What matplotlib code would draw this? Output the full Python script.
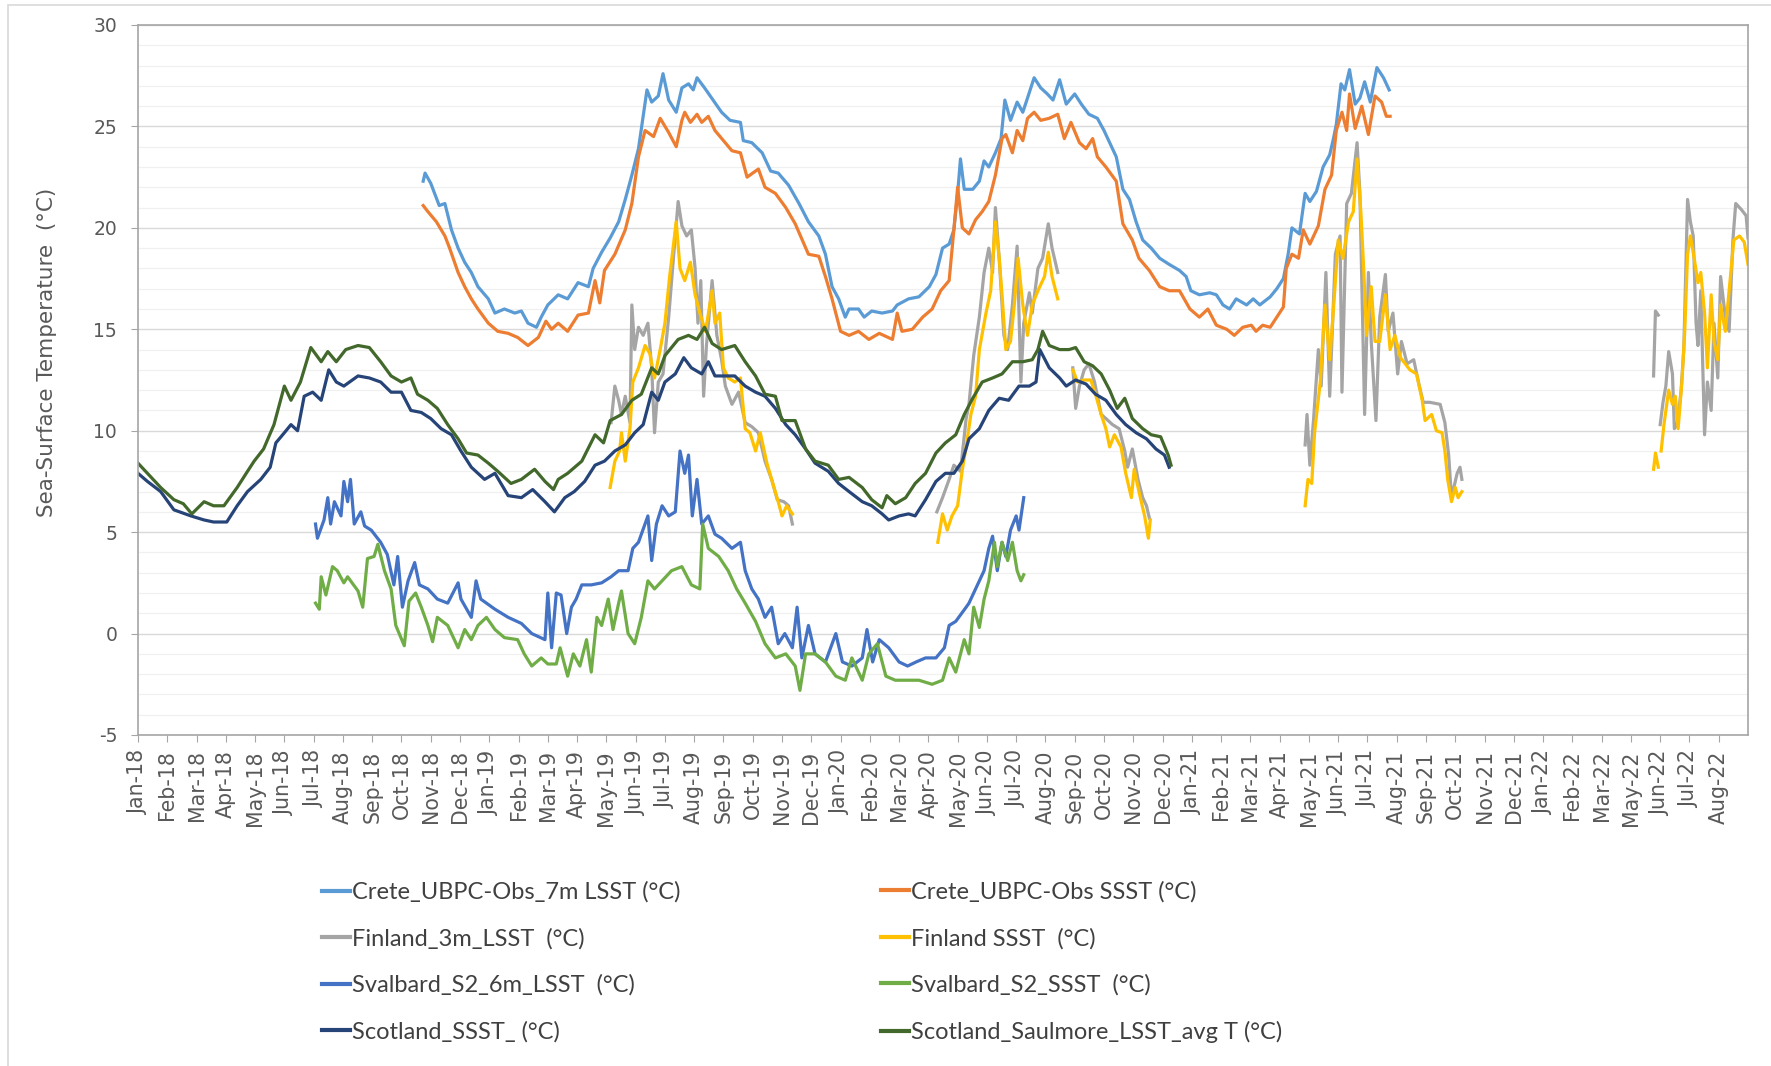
import numpy as np
import pandas as pd
import matplotlib
matplotlib.use('Agg')
import matplotlib.pyplot as plt
from matplotlib.ticker import MultipleLocator
from matplotlib.patches import Rectangle

plt.rcParams['axes.unicode_minus'] = False

nan = np.nan
base_date = pd.Timestamp('2018-01-01')

# days since 1 Jan 2018 and temperatures
crete_lsst_day = [302, 304, 310, 319, 325, 332, 339, 346, 353, 360, 371, 378, 388, 399, 406, 413, 422, 427, 434,
                  445, 455, 466, 477, 482, 491, 500, 509, 516, 523, 530, 535, 539, 544, 551, 556, 562, 570, 576,
                  583, 588, 592, 600, 609, 618, 627, 638, 641, 650, 661, 670, 678, 689, 700, 710, 721, 728, 735,
                  742, 749, 753, 763, 769, 777, 788, 799, 804, 816, 827, 838, 845, 852, 859, 864, 868, 871, 875,
                  884, 891, 896, 901, 908, 914, 918, 924, 931, 937, 942, 949, 956, 963, 969, 976, 983, 992, 999,
                  1007, 1016, 1023, 1029, 1036, 1043, 1050, 1057, 1064, 1073, 1082, 1092, 1103, 1110, 1115, 1124,
                  1135, 1142, 1149, 1156, 1163, 1174, 1181, 1188, 1199, 1206, 1213, 1218, 1222, 1230, 1236, 1241,
                  1248, 1255, 1262, 1266, 1269, 1274, 1278, 1283, 1289, 1294, 1299, 1305, 1312, 1319, 1325]
crete_lsst = [22.3, 22.7, 22.2, 21.1, 21.2, 19.9, 19.0, 18.3, 17.8, 17.1, 16.5, 15.8, 16.0, 15.8, 15.9, 15.3, 15.1,
              15.6, 16.2, 16.7, 16.5, 17.3, 17.1, 18.0, 18.8, 19.5, 20.3, 21.4, 22.6, 23.9, 25.5, 26.8, 26.2, 26.5,
              27.6, 26.3, 25.7, 26.9, 27.1, 26.8, 27.4, 26.9, 26.3, 25.7, 25.3, 25.2, 24.3, 24.2, 23.7, 22.8, 22.7,
              22.1, 21.2, 20.3, 19.6, 18.7, 17.1, 16.5, 15.6, 16.0, 16.0, 15.6, 15.9, 15.8, 15.9, 16.2, 16.5, 16.6,
              17.1, 17.7, 19.0, 19.2, 19.9, 21.7, 23.4, 21.9, 21.9, 22.3, 23.3, 23.0, 23.7, 24.4, 26.3, 25.3, 26.2,
              25.7, 26.4, 27.4, 26.9, 26.6, 26.3, 27.3, 26.1, 26.6, 26.1, 25.6, 25.4, 24.8, 24.2, 23.5, 21.9, 21.4,
              20.3, 19.4, 19.0, 18.5, 18.2, 17.9, 17.6, 16.9, 16.7, 16.8, 16.7, 16.2, 16.0, 16.5, 16.2, 16.5, 16.2,
              16.6, 17.0, 17.5, 18.7, 20.0, 19.7, 21.7, 21.3, 21.8, 23.0, 23.6, 24.4, 25.1, 27.1, 26.8, 27.8, 26.1,
              26.4, 27.2, 26.2, 27.9, 27.4, 26.8]

crete_ssst_day = [302, 307, 316, 325, 330, 339, 346, 353, 360, 371, 381, 392, 402, 413, 424, 432, 438, 445, 455,
                  466, 477, 484, 489, 494, 505, 516, 523, 530, 537, 546, 553, 562, 570, 576, 579, 585, 592, 597,
                  604, 611, 620, 629, 638, 645, 657, 664, 675, 686, 696, 710, 721, 728, 735, 744, 753, 763, 774,
                  785, 799, 804, 809, 820, 831, 841, 850, 859, 864, 868, 873, 880, 887, 894, 901, 908, 915, 919,
                  926, 931, 937, 942, 949, 956, 965, 974, 981, 988, 997, 1004, 1011, 1016, 1025, 1036, 1043, 1053,
                  1060, 1071, 1082, 1092, 1103, 1114, 1124, 1133, 1142, 1153, 1161, 1170, 1179, 1184, 1191, 1199,
                  1206, 1213, 1216, 1222, 1229, 1234, 1241, 1250, 1257, 1264, 1269, 1275, 1280, 1283, 1289, 1296,
                  1303, 1310, 1317, 1322, 1326]
crete_ssst = [21.1, 20.8, 20.3, 19.6, 19.0, 17.8, 17.1, 16.5, 16.0, 15.3, 14.9, 14.8, 14.6, 14.2, 14.6, 15.4, 15.0,
              15.3, 14.9, 15.7, 15.8, 17.4, 16.3, 17.9, 18.7, 19.9, 21.2, 23.5, 24.8, 24.5, 25.4, 24.7, 24.0, 25.3,
              25.7, 25.2, 25.6, 25.2, 25.5, 24.8, 24.3, 23.8, 23.7, 22.5, 22.9, 22.0, 21.7, 21.0, 20.2, 18.7, 18.6,
              17.6, 16.5, 14.9, 14.7, 14.9, 14.5, 14.8, 14.5, 15.8, 14.9, 15.0, 15.6, 16.0, 16.9, 17.4, 19.9, 22.0,
              20.0, 19.7, 20.4, 20.8, 21.3, 22.6, 24.4, 24.6, 23.7, 24.8, 24.3, 25.4, 25.7, 25.3, 25.4, 25.6, 24.4,
              25.2, 24.2, 23.9, 24.4, 23.5, 23.0, 22.3, 20.2, 19.4, 18.5, 17.9, 17.1, 16.9, 16.9, 16.0, 15.6, 16.0,
              15.2, 15.0, 14.7, 15.1, 15.2, 14.9, 15.2, 15.1, 15.6, 16.1, 18.0, 18.7, 18.5, 19.9, 19.2, 20.1, 21.9,
              22.6, 24.8, 25.7, 24.8, 26.6, 24.9, 26.0, 24.6, 26.5, 26.2, 25.5, 25.5]

finland_lsst_day = [501, 505, 509, 512, 516, 521, 523, 526, 530, 535, 540, 544, 547, 551, 556, 562, 567, 572, 576,
                    581, 586, 590, 593, 596, 599, 602, 608, 613, 618, 622, 629, 636, 643, 650, 657, 664, 671, 677,
                    684, 689, 693, 770,
                    846, 852, 859, 864, 871, 877, 880, 885, 891, 896, 901, 905, 908, 912, 917, 921, 926, 931, 935,
                    938, 944, 947, 953, 958, 964, 968, 974, 982,
                    990, 993, 997, 1002, 1007, 1013, 1020, 1025, 1032, 1039, 1045, 1048, 1053, 1059, 1064, 1068,
                    1071, 1150,
                    1236, 1238, 1241, 1245, 1250, 1253, 1258, 1262, 1268, 1273, 1275, 1280, 1285, 1291, 1294, 1299,
                    1303, 1306, 1311, 1315, 1321, 1324, 1329, 1334, 1338, 1344, 1351, 1356, 1361, 1368, 1379, 1384,
                    1388, 1391, 1397, 1400, 1402, 1500,
                    1605, 1607, 1610, 1611, 1612, 1615, 1618, 1621, 1625, 1627, 1630, 1634, 1637, 1641, 1644, 1647,
                    1650, 1652, 1655, 1659, 1662, 1666, 1669, 1673, 1676, 1681, 1685, 1689, 1692, 1698, 1703, 1705]
finland_lsst = [10.4, 12.2, 11.5, 10.8, 11.7, 10.4, 16.2, 14.0, 15.1, 14.7, 15.3, 13.1, 9.9, 12.4, 12.8, 15.6, 18.5,
                21.3, 20.1, 19.6, 19.9, 18.0, 15.3, 17.4, 11.7, 14.2, 17.4, 14.7, 13.5, 12.2, 11.3, 11.9, 10.4, 10.2,
                9.9, 8.5, 7.6, 6.6, 6.5, 6.3, 5.4, nan,
                6.0, 6.7, 7.6, 8.3, 8.0, 10.6, 11.3, 13.7, 15.6, 17.8, 19.0, 17.8, 21.0, 18.5, 14.7, 14.0, 16.2,
                19.1, 12.4, 15.3, 16.8, 15.8, 18.0, 18.5, 20.2, 19.0, 17.8, nan,
                13.1, 11.1, 12.2, 13.0, 13.3, 12.4, 10.8, 10.6, 10.3, 10.1, 9.0, 8.2, 9.1, 7.6, 6.7, 6.3, 5.7, nan,
                9.3, 10.8, 8.3, 10.6, 14.0, 12.2, 17.8, 11.7, 18.7, 19.6, 11.9, 21.2, 21.7, 24.2, 21.7, 10.8, 17.8,
                14.4, 10.5, 15.6, 17.7, 14.9, 15.8, 12.8, 14.4, 13.3, 13.5, 12.4, 11.4, 11.4, 11.3, 10.4, 8.8, 6.7,
                7.9, 8.2, 7.6, nan,
                12.7, 15.9, 15.7, nan, 10.3, 11.4, 12.2, 13.9, 12.8, 10.1, 10.3, 11.9, 14.0, 21.4, 20.3, 19.6, 15.3,
                14.2, 16.9, 9.8, 12.4, 11.0, 15.3, 12.6, 17.6, 15.6, 14.9, 19.4, 21.2, 20.9, 20.6, 19.5]

finland_ssst_day = [500, 505, 510, 512, 516, 521, 524, 530, 537, 542, 547, 553, 558, 563, 570, 574, 579, 585, 590,
                    595, 601, 608, 611, 616, 620, 625, 632, 638, 643, 648, 654, 659, 666, 671, 678, 682, 687, 693,
                    770,
                    847, 852, 857, 862, 868, 873, 877, 882, 887, 891, 898, 903, 908, 912, 915, 919, 924, 928, 932,
                    937, 942, 947, 953, 960, 964, 968, 974, 982,
                    990, 995, 1002, 1009, 1014, 1020, 1025, 1029, 1034, 1041, 1046, 1052, 1055, 1060, 1066, 1070,
                    1072, 1150,
                    1236, 1239, 1243, 1246, 1252, 1257, 1262, 1266, 1271, 1276, 1282, 1287, 1291, 1295, 1298, 1301,
                    1306, 1310, 1315, 1321, 1326, 1331, 1337, 1342, 1347, 1354, 1360, 1363, 1370, 1375, 1381, 1384,
                    1387, 1391, 1395, 1398, 1402, 1500,
                    1605, 1607, 1610, 1611, 1613, 1616, 1621, 1625, 1628, 1631, 1635, 1638, 1641, 1644, 1648, 1652,
                    1655, 1659, 1662, 1666, 1669, 1673, 1676, 1681, 1685, 1690, 1696, 1701, 1705]
finland_ssst = [7.2, 8.5, 9.0, 9.9, 8.5, 10.1, 12.4, 13.1, 14.2, 13.8, 12.6, 14.0, 15.3, 17.6, 20.3, 18.0, 17.4,
                18.3, 16.7, 15.8, 14.9, 16.9, 15.3, 15.8, 13.1, 12.6, 12.4, 12.6, 10.1, 9.9, 9.0, 9.9, 8.4, 7.6, 6.5,
                5.8, 6.3, 5.9, nan,
                4.5, 5.9, 5.1, 5.8, 6.3, 8.1, 9.2, 10.8, 11.7, 14.0, 15.8, 16.9, 20.3, 18.5, 16.7, 14.0, 14.4, 16.2,
                18.5, 16.2, 14.7, 16.2, 16.9, 17.6, 18.8, 17.6, 16.5, nan,
                13.0, 12.4, 12.5, 12.5, 11.8, 10.8, 10.1, 9.2, 9.8, 9.2, 7.9, 6.7, 8.1, 7.0, 5.8, 4.7, 5.6, nan,
                6.3, 7.6, 7.4, 9.9, 12.4, 16.2, 13.5, 16.0, 19.4, 18.5, 20.3, 20.8, 23.4, 20.8, 18.0, 14.7, 17.1,
                14.4, 14.4, 16.7, 14.0, 14.7, 13.6, 13.3, 13.0, 12.8, 11.5, 10.5, 10.8, 10.0, 9.9, 9.0, 7.6, 6.5,
                7.2, 6.7, 7.0, nan,
                8.1, 8.9, 8.2, nan, 9.0, 10.3, 12.0, 11.3, 11.7, 10.1, 12.4, 14.9, 18.7, 19.6, 18.5, 17.3, 17.8,
                15.8, 13.1, 16.7, 14.4, 13.5, 16.2, 14.9, 16.9, 19.4, 19.6, 19.3, 18.2]

svalbard_lsst_day = [188, 190, 197, 201, 204, 208, 215, 218, 222, 225, 229, 236, 240, 247, 257, 264, 271, 275, 280,
                     286, 293, 298, 307, 317, 328, 339, 342, 353, 358, 363, 378, 392, 406, 417, 431, 434, 438, 443,
                     448, 454, 459, 464, 470, 480, 491, 501, 509, 519, 524, 530, 540, 544, 549, 555, 562, 569, 574,
                     579, 583, 587, 592, 597, 604, 611, 618, 629, 638, 643, 650, 657, 664, 671, 678, 685, 693, 698,
                     703, 710, 717, 728, 739, 746, 756, 767, 772, 778, 785, 795, 806, 815, 824, 834, 845, 854, 859,
                     866, 877, 880, 885, 891, 896, 901, 905, 910, 915, 919, 924, 930, 933, 938]
svalbard_lsst = [5.4, 4.7, 5.6, 6.7, 5.4, 6.5, 5.8, 7.5, 6.5, 7.6, 5.4, 6.0, 5.3, 5.1, 4.5, 3.9, 2.4, 3.8, 1.3, 2.6,
                 3.5, 2.4, 2.2, 1.7, 1.5, 2.5, 1.7, 0.8, 2.6, 1.7, 1.2, 0.8, 0.5, 0.0, -0.3, 2.0, -0.7, 2.0, 1.9,
                 0.0, 1.3, 1.7, 2.4, 2.4, 2.5, 2.8, 3.1, 3.1, 4.2, 4.5, 5.8, 3.6, 5.4, 6.3, 5.8, 6.0, 9.0, 7.9, 8.8,
                 5.8, 7.6, 5.4, 5.8, 4.9, 4.7, 4.2, 4.5, 3.1, 2.2, 1.7, 0.8, 1.3, -0.5, 0.0, -0.7, 1.3, -1.2, 0.4,
                 -1.0, -1.4, 0.0, -1.4, -1.6, -1.2, 0.2, -1.4, -0.3, -0.7, -1.4, -1.6, -1.4, -1.2, -1.2, -0.7, 0.4,
                 0.6, 1.3, 1.5, 2.0, 2.6, 3.1, 4.2, 4.8, 3.1, 4.5, 3.8, 5.1, 5.8, 5.1, 6.7]

svalbard_ssst_day = [188, 192, 194, 199, 206, 211, 218, 222, 233, 238, 243, 250, 254, 261, 268, 273, 282, 287, 294,
                     300, 307, 312, 317, 328, 339, 346, 353, 360, 369, 378, 388, 402, 409, 417, 427, 434, 443, 447,
                     455, 461, 468, 475, 480, 486, 491, 498, 503, 509, 512, 519, 526, 533, 540, 547, 555, 565, 576,
                     586, 595, 598, 604, 615, 625, 634, 643, 654, 664, 675, 686, 696, 701, 707, 717, 728, 739, 749,
                     756, 767, 774, 783, 792, 802, 816, 827, 841, 852, 859, 866, 875, 880, 885, 891, 896, 901, 907,
                     910, 915, 921, 926, 931, 935, 938]
svalbard_ssst = [1.5, 1.2, 2.8, 1.9, 3.3, 3.1, 2.5, 2.8, 2.1, 1.3, 3.7, 3.8, 4.4, 3.1, 2.2, 0.4, -0.6, 1.6, 2.0, 1.3,
                 0.4, -0.4, 0.8, 0.4, -0.7, 0.2, -0.3, 0.4, 0.8, 0.2, -0.2, -0.3, -1.0, -1.6, -1.2, -1.5, -1.5, -0.7,
                 -2.1, -1.0, -1.6, -0.3, -1.9, 0.8, 0.4, 1.7, 0.2, 1.5, 2.1, 0.0, -0.5, 0.8, 2.6, 2.2, 2.6, 3.1, 3.3,
                 2.4, 2.2, 5.4, 4.2, 3.8, 3.1, 2.2, 1.5, 0.6, -0.5, -1.2, -1.0, -1.6, -2.8, -1.0, -1.0, -1.4, -2.1,
                 -2.3, -1.2, -2.3, -1.0, -0.5, -2.1, -2.3, -2.3, -2.3, -2.5, -2.3, -1.2, -1.9, -0.3, -1.0, 1.3, 0.3,
                 1.7, 2.6, 4.5, 3.3, 4.5, 3.6, 4.5, 3.1, 2.6, 2.9]

scotland_ssst_day = [0, 10, 24, 38, 56, 70, 80, 94, 105, 116, 130, 140, 146, 155, 162, 169, 176, 185, 194, 202, 210,
                     218, 233, 245, 257, 268, 279, 289, 300, 310, 321, 332, 342, 353, 367, 378, 392, 406, 418, 431,
                     441, 452, 462, 473, 484, 494, 505, 516, 526, 535, 544, 551, 558, 569, 578, 586, 597, 604, 611,
                     622, 632, 643, 654, 664, 675, 686, 696, 707, 717, 731, 742, 753, 767, 777, 788, 795, 806, 816,
                     823, 834, 845, 855, 864, 873, 880, 891, 901, 912, 922, 933, 944, 951, 955, 965, 976, 983, 993,
                     1004, 1014, 1025, 1036, 1046, 1057, 1068, 1078, 1087, 1092]
scotland_ssst = [7.9, 7.5, 7.0, 6.1, 5.8, 5.6, 5.5, 5.5, 6.3, 7.0, 7.6, 8.2, 9.4, 9.9, 10.3, 10.0, 11.7, 11.9, 11.5,
                 13.0, 12.4, 12.2, 12.7, 12.6, 12.4, 11.9, 11.9, 11.0, 10.9, 10.6, 10.1, 9.8, 9.0, 8.2, 7.6, 7.9, 6.8,
                 6.7, 7.1, 6.5, 6.0, 6.7, 7.0, 7.5, 8.3, 8.5, 9.0, 9.3, 9.9, 10.3, 11.9, 11.5, 12.4, 12.8, 13.6, 13.1,
                 12.8, 13.4, 12.7, 12.7, 12.7, 12.2, 11.9, 11.7, 11.1, 10.3, 9.8, 9.1, 8.4, 8.0, 7.4, 7.0, 6.5, 6.3,
                 5.9, 5.6, 5.8, 5.9, 5.8, 6.6, 7.5, 7.9, 7.9, 8.5, 9.6, 10.1, 11.0, 11.6, 11.5, 12.2, 12.2, 12.4,
                 14.0, 13.1, 12.6, 12.2, 12.5, 12.3, 11.8, 11.5, 10.8, 10.3, 9.9, 9.6, 9.1, 8.8, 8.2]

saulmore_day = [0, 10, 24, 38, 48, 57, 70, 80, 91, 105, 116, 123, 133, 144, 155, 162, 172, 183, 194, 201, 210, 220,
                233, 245, 257, 268, 279, 289, 296, 307, 317, 328, 339, 348, 360, 371, 381, 395, 406, 420, 431, 440,
                445, 455, 470, 484, 493, 500, 512, 523, 533, 544, 551, 558, 572, 583, 592, 600, 608, 618, 632, 643,
                654, 664, 675, 682, 696, 707, 717, 731, 742, 753, 767, 777, 788, 793, 802, 813, 823, 834, 845, 855,
                866, 875, 884, 894, 905, 915, 926, 937, 947, 953, 958, 965, 976, 986, 993, 1002, 1011, 1020, 1029,
                1037, 1045, 1053, 1064, 1073, 1083, 1091, 1094]
saulmore = [8.4, 7.9, 7.2, 6.6, 6.4, 5.9, 6.5, 6.3, 6.3, 7.2, 8.0, 8.5, 9.1, 10.3, 12.2, 11.5, 12.4, 14.1, 13.4, 13.9,
            13.4, 14.0, 14.2, 14.1, 13.4, 12.7, 12.4, 12.6, 11.8, 11.5, 11.1, 10.3, 9.6, 8.9, 8.8, 8.4, 8.0, 7.4, 7.6,
            8.1, 7.5, 7.1, 7.6, 7.9, 8.5, 9.8, 9.4, 10.5, 10.8, 11.5, 11.8, 13.1, 12.8, 13.7, 14.5, 14.7, 14.5, 15.1,
            14.3, 14.0, 14.2, 13.4, 12.7, 11.8, 11.7, 10.5, 10.5, 9.1, 8.5, 8.3, 7.6, 7.7, 7.2, 6.6, 6.2, 6.8, 6.4,
            6.7, 7.4, 7.9, 8.9, 9.4, 9.8, 10.8, 11.6, 12.4, 12.6, 12.8, 13.4, 13.4, 13.5, 14.0, 14.9, 14.2, 14.0,
            14.0, 14.1, 13.4, 13.2, 12.8, 12.0, 11.1, 11.6, 10.6, 10.1, 9.8, 9.7, 8.8, 8.3]

series = [
    ('Crete_UBPC-Obs_7m LSST (°C)', crete_lsst_day, crete_lsst, '#5B9BD5'),
    ('Crete_UBPC-Obs SSST (°C)', crete_ssst_day, crete_ssst, '#ED7D31'),
    ('Finland_3m_LSST  (°C)', finland_lsst_day, finland_lsst, '#A5A5A5'),
    ('Finland SSST  (°C)', finland_ssst_day, finland_ssst, '#FFC000'),
    ('Svalbard_S2_6m_LSST  (°C)', svalbard_lsst_day, svalbard_lsst, '#4472C4'),
    ('Svalbard_S2_SSST  (°C)', svalbard_ssst_day, svalbard_ssst, '#70AD47'),
    ('Scotland_SSST_ (°C)', scotland_ssst_day, scotland_ssst, '#264478'),
    ('Scotland_Saulmore_LSST_avg T (°C)', saulmore_day, saulmore, '#43682B'),
]

W, H = 1771, 1066
fig = plt.figure(figsize=(W / 100, H / 100), dpi=100)
ax = fig.add_axes([138 / W, 1 - 735 / H, (1748 - 138) / W, (735 - 25) / H])

handles = []
for name, days, vals, col in series:
    dates = base_date + pd.to_timedelta(days, unit='D')
    ln, = ax.plot(dates.to_pydatetime(), vals, color=col, lw=2.3, label=name, solid_joinstyle='round')
    handles.append(ln)

# axis
ax.set_ylim(-5, 30)
ax.set_xlim(base_date.to_pydatetime(), (base_date + pd.Timedelta(days=1705)).to_pydatetime())
ax.yaxis.set_major_locator(MultipleLocator(5))
ax.yaxis.set_minor_locator(MultipleLocator(1))
ticks = pd.date_range(base_date, periods=55, freq='31D')
ax.set_xticks(ticks.to_pydatetime())
ax.set_xticklabels([t.strftime('%b-%y') for t in ticks], rotation=90, fontsize=14.8, color='#595959',
                   family='DejaVu Sans')
ax.tick_params(axis='y', labelsize=13.5, labelcolor='#595959', length=5, color='#a6a6a6', pad=10)
ax.tick_params(axis='x', length=5, color='#a6a6a6', pad=6)
ax.tick_params(which='minor', length=0)
ax.grid(which='major', axis='y', color='#d9d9d9', lw=1.0)
ax.grid(which='minor', axis='y', color='#f0f0f0', lw=0.9)
ax.set_axisbelow(True)
for s in ax.spines.values():
    s.set_color('#a6a6a6')
    s.set_linewidth(1.2)

fig.text(47 / W, 1 - 352 / H, 'Sea-Surface Temperature  (°C)', rotation=90, ha='center', va='center',
         fontsize=15.5, color='#595959', family='DejaVu Sans')

# legend in two columns
leg_font = {'family': ['Lato', 'DejaVu Sans'], 'size': 17}
for col_idx, x0 in enumerate([322, 881]):
    hs = handles[col_idx::2]
    leg = fig.legend(hs, [h.get_label() for h in hs], loc='center left',
                     bbox_to_anchor=(x0 / W, 1 - 962 / H), frameon=False, prop=leg_font,
                     handlelength=1.2, handletextpad=0.08, labelspacing=1.06,
                     borderaxespad=0, borderpad=0)
    for t in leg.get_texts():
        t.set_color('#404040')
    for l in leg.get_lines():
        l.set_linewidth(3)

# chart area border
fig.add_artist(Rectangle((8 / W, -0.1), 1.5, 1.1 - 5 / H, transform=fig.transFigure,
                         fill=False, edgecolor='#d9d9d9', lw=1.2))

fig.savefig('out.png', dpi=100)
